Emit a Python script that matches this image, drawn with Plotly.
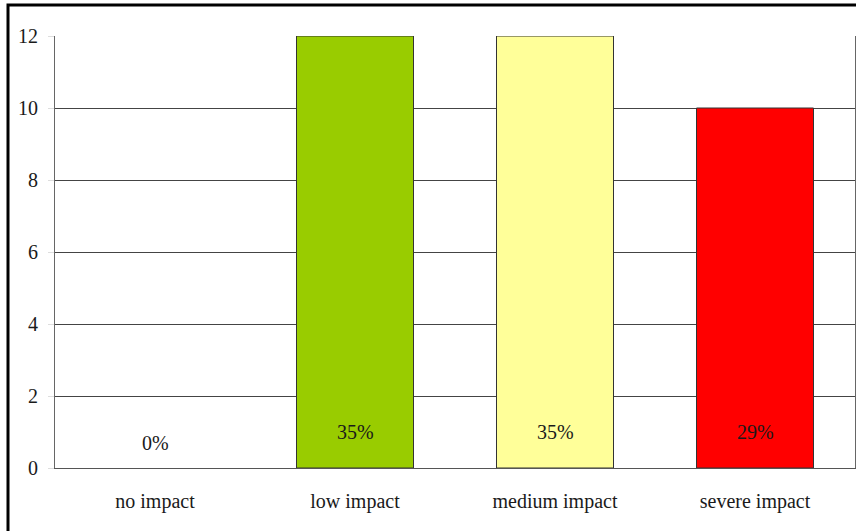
import plotly.graph_objects as go

categories = ["no impact", "low impact", "medium impact", "severe impact"]
counts = [0, 12, 12, 10]
percent_labels = ["0%", "35%", "35%", "29%"]
label_y = [0.7, 1.0, 1.0, 1.0]
bar_colors = ["#FFFFFF", "#99CC00", "#FFFF99", "#FF0000"]
outline_widths = [0, 1, 1, 1]
y_ticks = [0, 2, 4, 6, 8, 10, 12]

FONT = "Liberation Serif"

fig = go.Figure()
fig.add_trace(go.Bar(
    x=categories, y=counts,
    marker=dict(color=bar_colors, line=dict(color="#333333", width=outline_widths)),
    hoverinfo="skip",
))

for c, t, yv in zip(categories, percent_labels, label_y):
    fig.add_annotation(x=c, y=yv, text=t, showarrow=False,
                       font=dict(family=FONT, size=20, color="#1a1a1a"))

fig.add_shape(type="rect", xref="paper", yref="paper",
              x0=-0.05875, x1=1.02, y0=-0.16, y1=1.0718,
              line=dict(color="black", width=3), layer="above")

fig.update_layout(
    width=856, height=531,
    margin=dict(l=55, r=1, t=36, b=63),
    paper_bgcolor="white", plot_bgcolor="white",
    bargap=0.415, showlegend=False,
    font=dict(family=FONT, size=20, color="#1a1a1a"),
    xaxis=dict(showgrid=False, showline=True, linecolor="#555555", linewidth=1,
               ticks="", ticklabelstandoff=15, tickfont=dict(size=20, family=FONT)),
    yaxis=dict(range=[0, 12], tickvals=y_ticks, showgrid=True, gridcolor="#444444",
               gridwidth=1, showline=True, linecolor="#666666", mirror=True,
               ticks="outside", ticklen=6, tickcolor="#dddddd",
               ticklabelstandoff=6, zeroline=False,
               tickfont=dict(size=20, family=FONT)),
)

fig.write_html("out.html")
